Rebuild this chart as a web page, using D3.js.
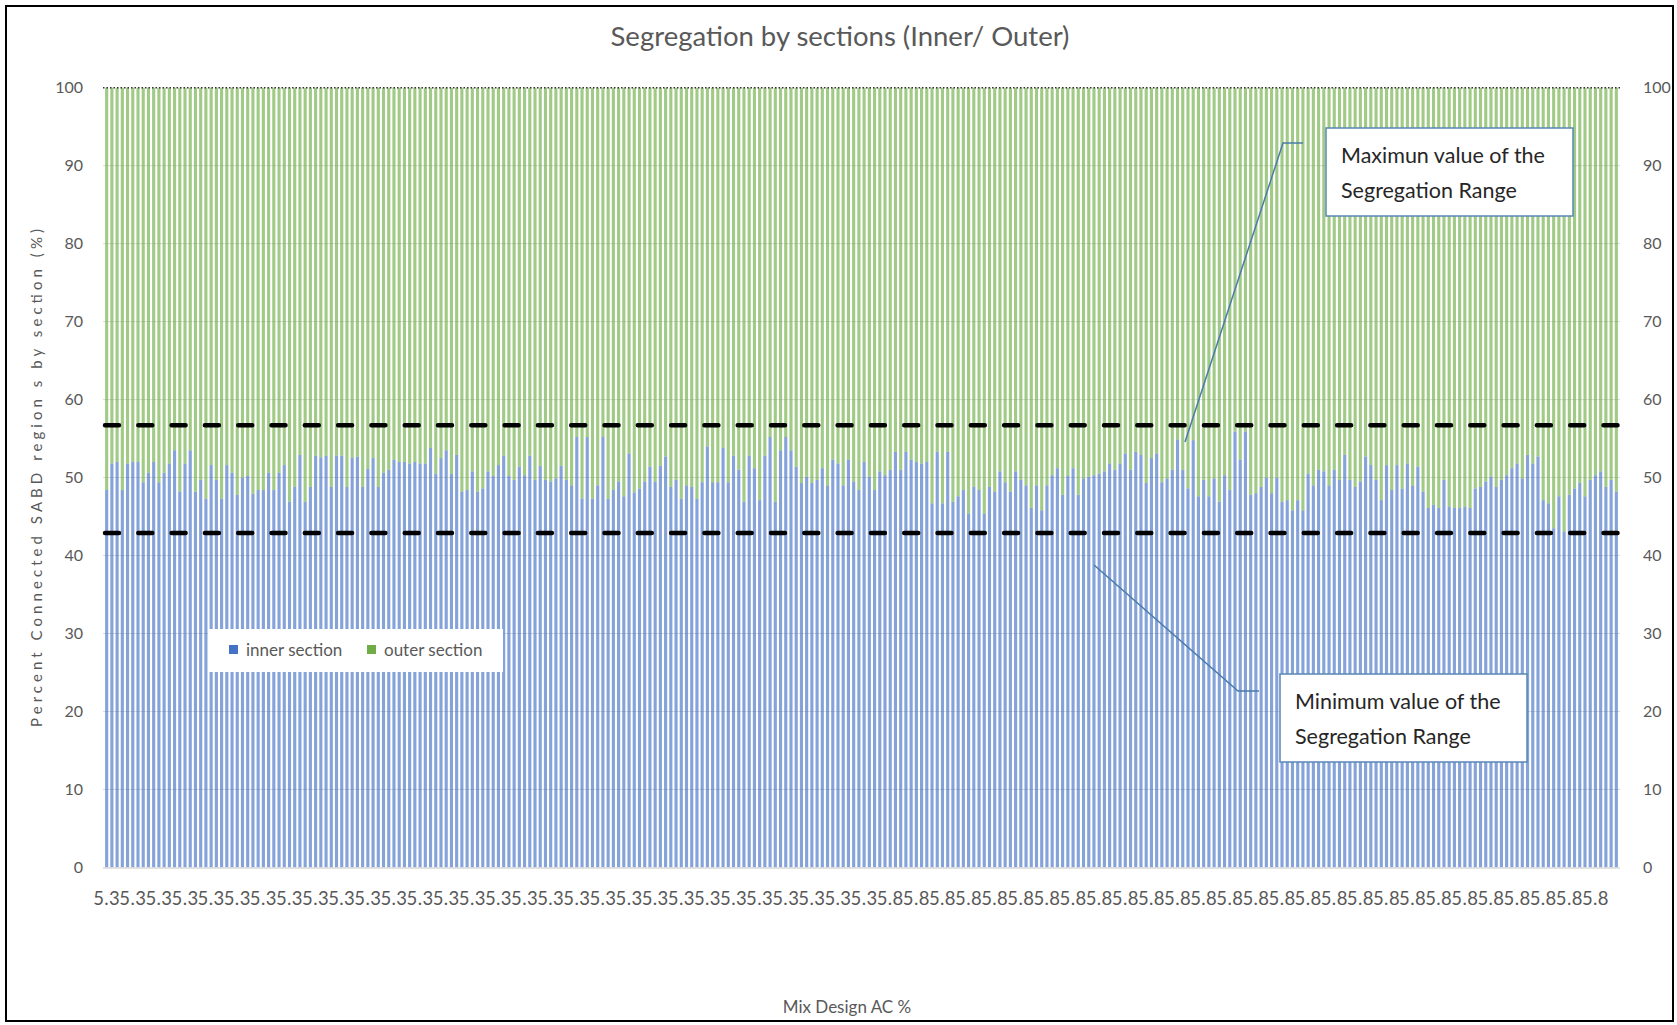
<!DOCTYPE html>
<html>
<head>
<meta charset="utf-8">
<script src="https://cdn.jsdelivr.net/npm/d3@7"></script>
<style>
  html, body { margin: 0; padding: 0; background: #fff; }
  svg { display: block; font-family: Lato, "Open Sans", sans-serif; }
</style>
</head>
<body>
<svg id="chart" width="1677" height="1025"></svg>
<script>
// ---------- data ----------
const title = "Segregation by sections (Inner/ Outer)";
const xTitle = "Mix Design AC %";
const yTitle = "Percent Connected SABD region s by section (%)";
const seriesNames = ["inner section", "outer section"];
const acGroups = ["5.3", "5.8"];
const acGroupSizes = [150, 140];
const yTicks = [0, 10, 20, 30, 40, 50, 60, 70, 80, 90, 100];
const rangeMax = 56.7;
const rangeMin = 42.9;
const annotMax = ["Maximun value of the", "Segregation Range"];
const annotMin = ["Minimum value of the", "Segregation Range"];

const inner = [
  48.4, 51.8, 52.0, 48.4, 51.8, 52.0, 52.0, 49.4, 50.6, 52.0,
  49.4, 50.6, 51.8, 53.5, 48.2, 51.8, 53.5, 48.2, 49.7, 47.3,
  51.6, 49.7, 47.3, 51.6, 50.6, 47.8, 50.0, 50.2, 47.9, 48.4,
  48.4, 50.6, 48.4, 50.6, 51.6, 46.9, 48.8, 52.9, 46.9, 48.8,
  52.8, 52.6, 52.8, 48.8, 52.8, 52.8, 48.8, 52.5, 52.7, 48.8,
  51.1, 52.5, 48.8, 50.6, 51.0,
  52.3, 52.0, 52.0, 51.8, 52.0, 51.8, 51.8, 53.8, 50.5, 52.5,
  53.5, 50.5, 52.9, 48.2, 48.4, 50.8, 48.2, 48.6, 50.8, 50.2,
  51.6, 52.8, 50.2, 49.7, 51.4, 50.3, 52.8, 49.7, 51.5, 49.7,
  49.5, 49.9, 51.5, 49.7, 49.0, 55.2, 47.3, 55.2, 47.3, 49.0,
  55.2, 47.3, 48.4, 49.5, 47.6, 53.1, 48.1, 48.6, 49.5, 51.4,
  49.5, 51.5, 52.7, 48.8, 49.7,
  47.3, 49.0, 48.8, 47.3, 49.4, 54.0, 49.4, 49.4, 53.8, 49.4,
  52.8, 51.0, 46.9, 52.8, 51.2, 47.1, 52.8, 55.2, 46.9, 53.5,
  55.2, 53.5, 51.4, 49.3, 50.1, 49.3, 49.7, 51.2, 49.0, 52.3,
  51.8, 49.0, 52.3, 49.5, 48.4, 52.0, 50.1, 48.4, 50.8, 50.3,
  51.0, 53.3, 51.0, 53.3, 52.3, 52.0, 51.8, 52.0, 46.7, 53.3,
  46.7, 53.3, 46.9, 47.6, 48.4,
  45.4, 48.8, 48.4, 45.4, 48.8, 48.2, 50.8, 49.4, 48.2, 50.8,
  49.7, 49.0, 46.1, 49.0, 45.8, 49.0, 50.3, 51.2, 47.8, 50.2,
  51.2, 47.8, 49.9, 50.1, 50.3, 50.5, 50.8, 51.8, 51.0, 51.8,
  53.1, 51.0, 53.3, 52.9, 49.3, 52.5, 53.1, 49.4, 49.9, 51.0,
  54.9, 51.0, 48.6, 54.8, 47.6, 49.7, 47.6, 49.9, 46.9, 50.3,
  48.4, 55.9, 52.3, 55.9, 47.8,
  48.0, 48.8, 50.0, 48.0, 50.0, 46.9, 47.1, 45.8, 47.1, 45.8,
  50.5, 49.0, 51.0, 50.8, 49.0, 51.0, 49.7, 52.9, 49.7, 48.8,
  49.5, 52.7, 51.6, 49.7, 47.1, 51.6, 48.4, 51.6, 48.6, 51.8,
  49.0, 51.4, 48.2, 46.1, 46.5, 46.1, 49.7, 46.3, 46.1, 46.1,
  46.3, 46.1, 48.6, 48.8, 49.5, 50.1, 48.8, 49.7, 50.3, 51.2,
  51.8, 49.9, 52.9, 51.8, 52.7, 47.1, 46.7, 43.5, 47.6, 43.1,
  47.8, 48.6, 49.3, 47.6, 49.7, 50.3, 50.8, 48.8, 49.7, 48.2
];

const outer = [
  51.6, 48.2, 48.0, 51.6, 48.2, 48.0, 48.0, 50.6, 49.4, 48.0,
  50.6, 49.4, 48.2, 46.5, 51.8, 48.2, 46.5, 51.8, 50.3, 52.7,
  48.4, 50.3, 52.7, 48.4, 49.4, 52.2, 50.0, 49.8, 52.1, 51.6,
  51.6, 49.4, 51.6, 49.4, 48.4, 53.1, 51.2, 47.1, 53.1, 51.2,
  47.2, 47.4, 47.2, 51.2, 47.2, 47.2, 51.2, 47.5, 47.3, 51.2,
  48.9, 47.5, 51.2, 49.4, 49.0,
  47.7, 48.0, 48.0, 48.2, 48.0, 48.2, 48.2, 46.2, 49.5, 47.5,
  46.5, 49.5, 47.1, 51.8, 51.6, 49.2, 51.8, 51.4, 49.2, 49.8,
  48.4, 47.2, 49.8, 50.3, 48.6, 49.7, 47.2, 50.3, 48.5, 50.3,
  50.5, 50.1, 48.5, 50.3, 51.0, 44.8, 52.7, 44.8, 52.7, 51.0,
  44.8, 52.7, 51.6, 50.5, 52.4, 46.9, 51.9, 51.4, 50.5, 48.6,
  50.5, 48.5, 47.3, 51.2, 50.3,
  52.7, 51.0, 51.2, 52.7, 50.6, 46.0, 50.6, 50.6, 46.2, 50.6,
  47.2, 49.0, 53.1, 47.2, 48.8, 52.9, 47.2, 44.8, 53.1, 46.5,
  44.8, 46.5, 48.6, 50.7, 49.9, 50.7, 50.3, 48.8, 51.0, 47.7,
  48.2, 51.0, 47.7, 50.5, 51.6, 48.0, 49.9, 51.6, 49.2, 49.7,
  49.0, 46.7, 49.0, 46.7, 47.7, 48.0, 48.2, 48.0, 53.3, 46.7,
  53.3, 46.7, 53.1, 52.4, 51.6,
  54.6, 51.2, 51.6, 54.6, 51.2, 51.8, 49.2, 50.6, 51.8, 49.2,
  50.3, 51.0, 53.9, 51.0, 54.2, 51.0, 49.7, 48.8, 52.2, 49.8,
  48.8, 52.2, 50.1, 49.9, 49.7, 49.5, 49.2, 48.2, 49.0, 48.2,
  46.9, 49.0, 46.7, 47.1, 50.7, 47.5, 46.9, 50.6, 50.1, 49.0,
  45.1, 49.0, 51.4, 45.2, 52.4, 50.3, 52.4, 50.1, 53.1, 49.7,
  51.6, 44.1, 47.7, 44.1, 52.2,
  52.0, 51.2, 50.0, 52.0, 50.0, 53.1, 52.9, 54.2, 52.9, 54.2,
  49.5, 51.0, 49.0, 49.2, 51.0, 49.0, 50.3, 47.1, 50.3, 51.2,
  50.5, 47.3, 48.4, 50.3, 52.9, 48.4, 51.6, 48.4, 51.4, 48.2,
  51.0, 48.6, 51.8, 53.9, 53.5, 53.9, 50.3, 53.7, 53.9, 53.9,
  53.7, 53.9, 51.4, 51.2, 50.5, 49.9, 51.2, 50.3, 49.7, 48.8,
  48.2, 50.1, 47.1, 48.2, 47.3, 52.9, 53.3, 56.5, 52.4, 56.9,
  52.2, 51.4, 50.7, 52.4, 50.3, 49.7, 49.2, 51.2, 50.3, 51.8
];

// ---------- build ----------
const categories = [];
acGroups.forEach((g, gi) => { for (let k = 0; k < acGroupSizes[gi]; k++) categories.push(g); });
const table = inner.map((v, i) => ({ idx: i, inner: v, outer: outer[i] }));

const svg = d3.select("#chart");
const plot = { left: 103, right: 1620, top: 87.7, bottom: 867.4 };
const textColor = "#595959";

// outer frame
svg.append("rect").attr("x", 6).attr("y", 6).attr("width", 1667).attr("height", 1015)
  .attr("fill", "#fff").attr("stroke", "#000").attr("stroke-width", 2);

const x = d3.scaleBand().domain(d3.range(table.length)).range([plot.left, plot.right]).padding(0.4);
const y = d3.scaleLinear().domain([0, 100]).range([plot.bottom, plot.top]);

// gridlines
svg.append("g").selectAll("line").data(yTicks.filter(t => t > 0 && t < 100)).join("line")
  .attr("x1", plot.left).attr("x2", plot.right)
  .attr("y1", d => y(d)).attr("y2", d => y(d))
  .attr("stroke", "#d9d9d9").attr("stroke-width", 1);

// stacked bars
const stack = d3.stack().keys(["inner", "outer"]);
const series = stack(table);
const colors = { inner: "#4472C4", outer: "#70AD47" };
svg.append("g").selectAll("g").data(series).join("g")
  .attr("fill", d => colors[d.key]).attr("fill-opacity", 0.65)
  .selectAll("rect").data(d => d).join("rect")
  .attr("x", d => x(d.data.idx))
  .attr("width", x.bandwidth())
  .attr("y", d => y(d[1]))
  .attr("height", d => y(d[0]) - y(d[1]));

// baseline
svg.append("line").attr("x1", plot.left).attr("x2", plot.right)
  .attr("y1", y(0) + 0.5).attr("y2", y(0) + 0.5).attr("stroke", "#d9d9d9").attr("stroke-width", 1.5);

// top dotted line at 100
svg.append("line").attr("x1", plot.left).attr("x2", plot.right)
  .attr("y1", y(100)).attr("y2", y(100))
  .attr("stroke", "#333").attr("stroke-width", 1.5).attr("stroke-dasharray", "1.5,2");

// dashed range lines
[rangeMax, rangeMin].forEach(v => {
  svg.append("line").attr("x1", plot.left + 2).attr("x2", plot.right)
    .attr("y1", y(v)).attr("y2", y(v))
    .attr("stroke", "#000").attr("stroke-width", 4.5)
    .attr("stroke-linecap", "round").attr("stroke-dasharray", "14,19.3");
});

// axes
const yLeft = d3.axisLeft(y).tickValues(yTicks).tickSize(0).tickPadding(20).tickFormat(d3.format("d"));
const gL = svg.append("g").attr("transform", `translate(${plot.left},0)`).call(yLeft);
const yRight = d3.axisRight(y).tickValues(yTicks).tickSize(0).tickPadding(23).tickFormat(d3.format("d"));
const gR = svg.append("g").attr("transform", `translate(${plot.right},0)`).call(yRight);
const xAxis = d3.axisBottom(x).tickValues(d3.range(0, table.length, 5)).tickSize(0).tickPadding(24)
  .tickFormat(i => categories[i]);
const gX = svg.append("g").attr("transform", `translate(0,${plot.bottom})`).call(xAxis);
[gL, gR, gX].forEach(g => {
  g.select(".domain").remove();
  g.selectAll("text").attr("fill", textColor).style("font-size", "16px").style("font-family", "Lato, sans-serif");
});
gX.selectAll("text").style("font-size", "18.5px").style("letter-spacing", "0.4px");

// title
svg.append("text").attr("x", 840).attr("y", 46).attr("text-anchor", "middle")
  .attr("fill", textColor).style("font-size", "27.5px").text(title);

// axis titles
svg.append("text").attr("transform", "translate(42,478) rotate(-90)").attr("text-anchor", "middle")
  .attr("fill", textColor).style("font-size", "15px")
  .attr("textLength", 498).attr("lengthAdjust", "spacing").text(yTitle);
svg.append("text").attr("x", 847).attr("y", 1013).attr("text-anchor", "middle")
  .attr("fill", textColor).style("font-size", "17px").text(xTitle);

// legend
const lg = svg.append("g");
lg.append("rect").attr("x", 208).attr("y", 629).attr("width", 295).attr("height", 43).attr("fill", "#fff");
seriesNames.forEach((name, i) => {
  const lx = [229, 367][i];
  lg.append("rect").attr("x", lx).attr("y", 645).attr("width", 9).attr("height", 9)
    .attr("fill", i === 0 ? colors.inner : colors.outer);
  lg.append("text").attr("x", lx + 17).attr("y", 656).attr("fill", textColor)
    .style("font-size", "17px").text(name);
});

// annotations
function annot(box, lines, leader) {
  svg.append("path").attr("d", d3.line()(leader)).attr("fill", "none")
    .attr("stroke", "#4a7bab").attr("stroke-width", 1.5);
  svg.append("rect").attr("x", box[0]).attr("y", box[1]).attr("width", box[2]).attr("height", box[3])
    .attr("fill", "#fff").attr("stroke", "#5b87b8").attr("stroke-width", 1.5);
  lines.forEach((t, i) => {
    svg.append("text").attr("x", box[0] + 15).attr("y", box[1] + 35 + i * 35)
      .attr("fill", "#262626").style("font-size", "21.5px").text(t);
  });
}
annot([1326, 128, 247, 88], annotMax, [[1185, 442], [1283, 143], [1303, 143]]);
annot([1280, 674, 247, 88], annotMin, [[1094, 565], [1238, 691], [1259, 691]]);
</script>
</body>
</html>
